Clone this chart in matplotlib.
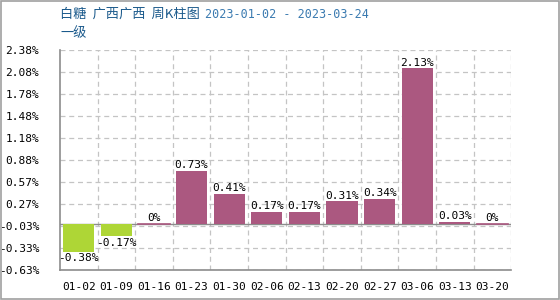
import matplotlib.pyplot as plt
from matplotlib.patches import Rectangle

# 周期
weeks = ['01-02', '01-09', '01-16', '01-23', '01-30', '02-06', '02-13',
         '02-20', '02-27', '03-06', '03-13', '03-20']
# 涨跌幅 (%)
changes = [-0.38, -0.17, 0, 0.73, 0.41, 0.17, 0.17, 0.31, 0.34, 2.13, 0.03, 0]
# 纵轴刻度
ytick_labels = ['-0.63%', '-0.33%', '-0.03%', '0.27%', '0.57%', '0.88%',
                '1.18%', '1.48%', '1.78%', '2.08%', '2.38%']

up_color = '#ab5880'
down_color = '#aed636'
grid_color = '#c4c4c4'
axis_color = '#8c8c8c'
mono = 'DejaVu Sans Mono'

fig = plt.figure(figsize=(5.6, 3.0), dpi=100)
ax = fig.add_axes([0.107, 0.1, 0.806, 0.733])

y_min, y_max = -0.63, 2.38
step = (y_max - y_min) / 10
yticks = [y_min + i * step for i in range(11)]

x = list(range(len(weeks)))
colors = [down_color if v < 0 else up_color for v in changes]
ax.bar(x, changes, width=0.83, color=colors, zorder=3)
# 0 值画成细线
for i, v in enumerate(changes):
    if v == 0:
        ax.plot([i - 0.415, i + 0.415], [0, 0], color=up_color, lw=1.2, zorder=4)

for i, v in enumerate(changes):
    label = ('%g' % v) + '%'
    if v < 0:
        ax.text(i, v - 0.02, label, ha='center', va='top', fontsize=8,
                family=mono, zorder=5)
    else:
        ax.text(i, v + 0.01, label, ha='center', va='bottom', fontsize=8,
                family=mono, zorder=5)

ax.axhline(0, color=axis_color, lw=1, zorder=2)

ax.set_xlim(-0.5, len(weeks) - 0.5)
ax.set_ylim(y_min, y_max)
ax.set_yticks(yticks)
ax.set_yticklabels(ytick_labels, family=mono, fontsize=8)
ax.set_xticks(x)
ax.set_xticklabels(weeks, family=mono, fontsize=8)
ax.tick_params(length=0, pad=9, axis='x')
ax.tick_params(length=0, pad=15, axis='y')

# 网格
for yt in yticks:
    ax.axhline(yt, color=grid_color, lw=0.9, ls=(0, (4, 3)), zorder=1)
for b in range(1, len(weeks) + 1):
    ax.axvline(b - 0.5, color=grid_color, lw=0.9, ls=(0, (4, 3)), zorder=1)

for s in ['top', 'right']:
    ax.spines[s].set_visible(False)
for s in ['left', 'bottom']:
    ax.spines[s].set_color(axis_color)
    ax.spines[s].set_linewidth(1.2)

# 标题
cjk = ['Noto Sans CJK SC', 'DejaVu Sans']
fig.text(60 / 560, 1 - 14 / 300, '白糖  广西广西  周K柱图', family=cjk,
         fontsize=9.5, color='#1b5a8c', va='center')
fig.text(205 / 560, 1 - 14 / 300, '2023-01-02 - 2023-03-24', family=mono,
         fontsize=8.5, color='#3a7ab0', va='center')
fig.text(60 / 560, 1 - 34 / 300, '一级', family=cjk, fontsize=9.5,
         color='#1b5a8c', va='center')

# 外框
fig.patches.append(Rectangle((0.001, 0.003), 0.997, 0.995, transform=fig.transFigure,
                             fill=False, edgecolor='#a0a0a0', lw=1.2))

plt.savefig('out.png', dpi=100)
